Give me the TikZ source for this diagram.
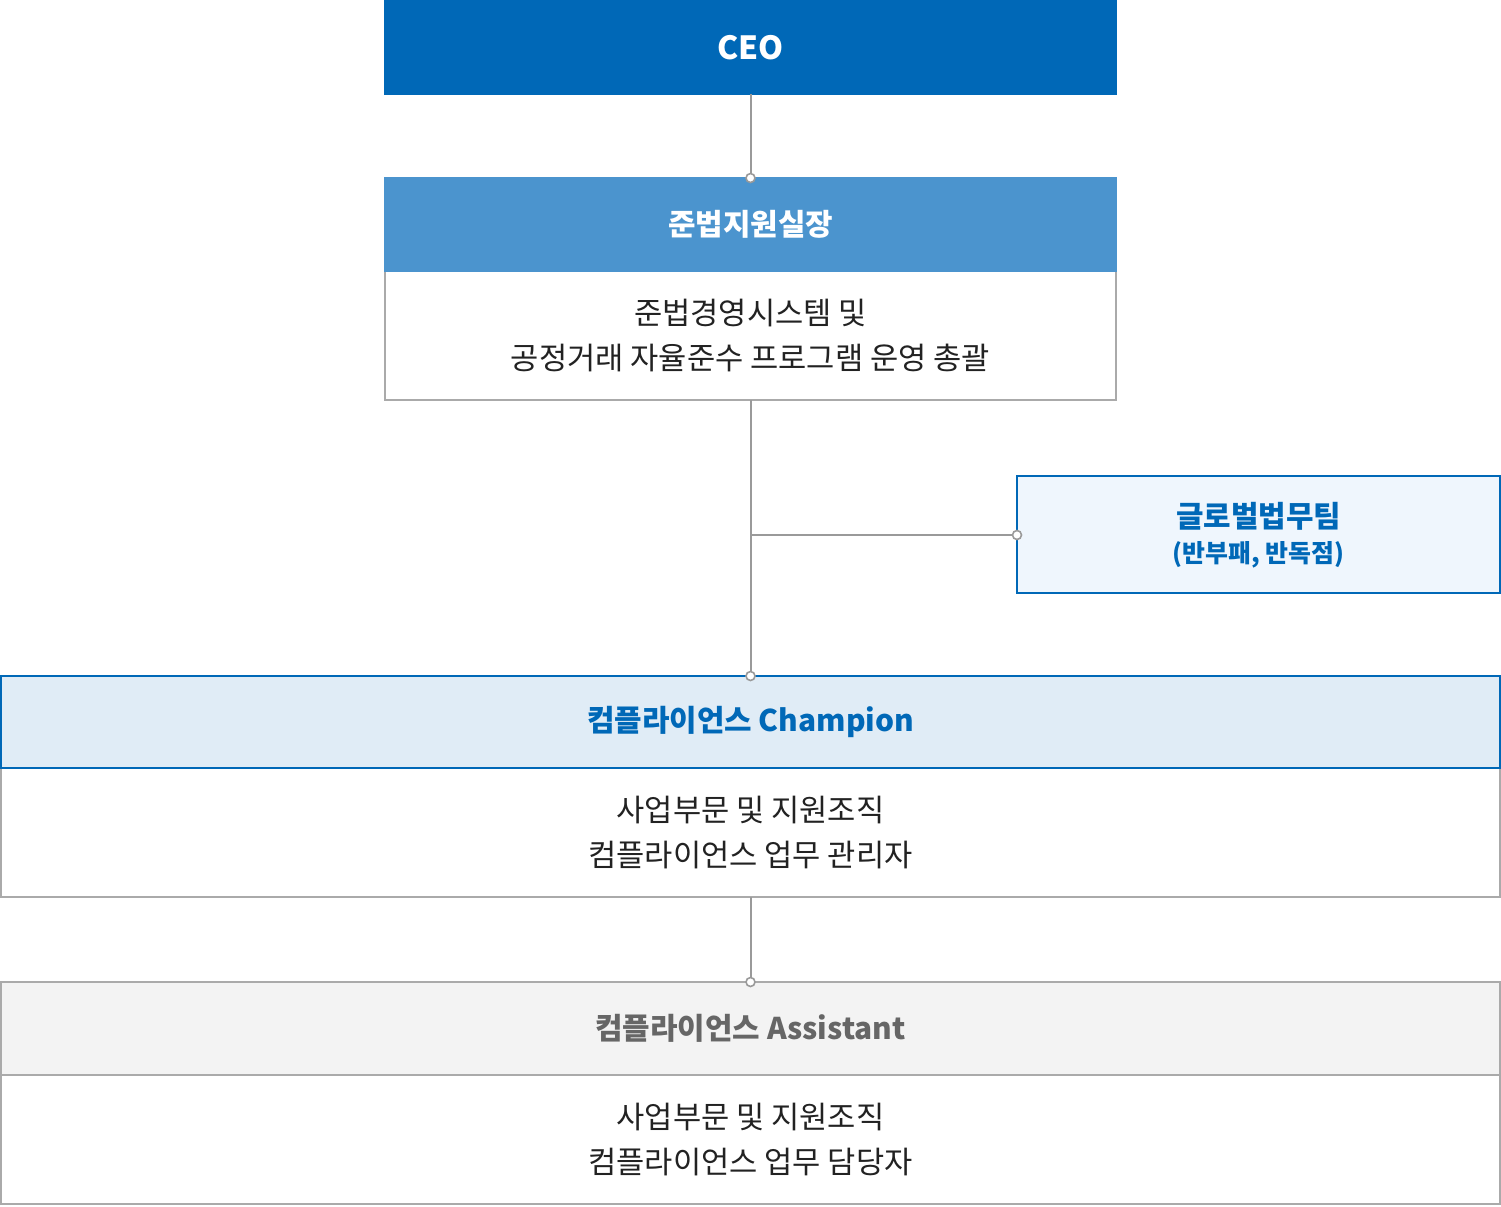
\documentclass[tikz,border=0pt]{standalone}
\usepackage{fontspec}
\setmainfont{Noto Sans CJK KR}
\definecolor{ceoblue}{HTML}{0068B7}
\definecolor{midblue}{HTML}{4B94CE}
\definecolor{paleblue}{HTML}{E0ECF6}
\definecolor{lightblue}{HTML}{EFF6FD}
\definecolor{palegray}{HTML}{F3F3F3}
\definecolor{linegray}{HTML}{9A9A9A}
\definecolor{boxgray}{HTML}{AAAAAA}
\definecolor{txtdark}{HTML}{222222}
\definecolor{txtgray}{HTML}{666666}
\tikzset{
  box/.style={rectangle, inner sep=0pt, outer sep=0pt, line width=1.3bp},
  hdrtext/.style={font=\fontsize{30}{36}\selectfont\bfseries},
  bodytext/.style={font=\fontsize{30.8}{46}\selectfont, text=txtdark, align=center},
  conn/.style={draw=linegray, line width=2bp},
  dot/.style={circle, draw=linegray, fill=white, line width=1.6bp, minimum size=9bp, inner sep=0pt},
}
\begin{document}
\begin{tikzpicture}[x=1bp,y=-1bp]
\useasboundingbox (0,0) rectangle (1501,1206);
% CEO
\draw[box, fill=ceoblue, draw=ceoblue] (385,1) rectangle (1116,94);
\node[hdrtext, text=white, font=\fontsize{32}{36}\selectfont\bfseries] (ceo) at (750.5,47.5) {CEO};
\coordinate (ceob) at (750.5,94);
% 준법지원실장
\draw[box, fill=white, draw=boxgray] (385,271) rectangle (1116,400);
\draw[box, fill=midblue, draw=midblue] (385,178) rectangle (1116,271);
\node[hdrtext, text=white] (cco) at (750.5,224.5) {준법지원실장};
\node[bodytext] (ccobody) at (750.5,335.5) {준법경영시스템 및\\공정거래 자율준수 프로그램 운영 총괄};
\coordinate (ccot) at (750.5,178);
\coordinate (ccob) at (750.5,400);
% 글로벌법무팀
\draw[box, fill=lightblue, draw=ceoblue] (1017,476) rectangle (1500,593);
\node[text=ceoblue, font=\fontsize{30}{36}\selectfont\bfseries] (glob) at (1258.5,516) {글로벌법무팀};
\node[text=ceoblue, font=\fontsize{25}{30}\selectfont\bfseries] (globsub) at (1258.5,555) {(반부패, 반독점)};
\coordinate (globl) at (1017,535);
\coordinate (branch) at (750.5,535);
% Champion
\draw[box, fill=white, draw=boxgray] (1,768) rectangle (1500,897);
\draw[box, fill=paleblue, draw=ceoblue] (1,676) rectangle (1500,768);
\node[hdrtext, text=ceoblue] (champ) at (750.5,722) {컴플라이언스 Champion};
\node[bodytext] (champbody) at (750.5,832.5) {사업부문 및 지원조직\\컴플라이언스 업무 관리자};
\coordinate (champt) at (750.5,676);
\coordinate (champb) at (750.5,897);
% Assistant
\draw[box, fill=white, draw=boxgray] (1,1075) rectangle (1500,1204);
\draw[box, fill=palegray, draw=boxgray] (1,982) rectangle (1500,1075);
\node[hdrtext, text=txtgray] (assist) at (750.5,1028.5) {컴플라이언스 Assistant};
\node[bodytext] (assistbody) at (750.5,1139.5) {사업부문 및 지원조직\\컴플라이언스 업무 담당자};
\coordinate (assistt) at (750.5,982);
% connectors
\draw[conn] (ceob) -- (ccot);
\draw[conn] (ccob) -- (champt);
\draw[conn] (branch) -- (globl);
\draw[conn] (champb) -- (assistt);
\node[dot] at (ccot) {};
\node[dot] at (globl) {};
\node[dot] at (champt) {};
\node[dot] at (assistt) {};
\end{tikzpicture}
\end{document}
